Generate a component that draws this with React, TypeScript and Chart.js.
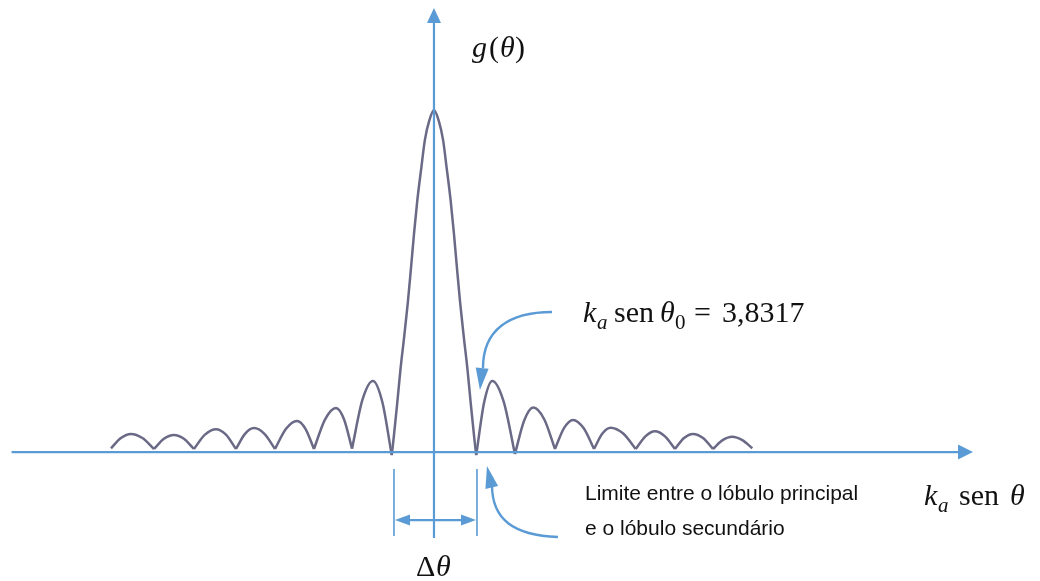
import React, { useEffect, useRef } from "react";
import { Chart, registerables } from "chart.js";

Chart.register(...registerables);

// ---- Data (x in k_a·sen θ units, y = normalised g(θ)) ----
// Main lobe samples, left to right
const mainLobeX = [-3.84, -3.65, -3.34, -3.05, -2.71, -2.38, -2.09, -1.81, -1.51, -1.14, -0.83, -0.41, 0,
  0.41, 0.83, 1.14, 1.51, 1.81, 2.09, 2.38, 2.71, 3.05, 3.34, 3.65, 3.84];
const mainLobeY = [-0.009, 0.045, 0.143, 0.240, 0.337, 0.436, 0.538, 0.640, 0.737, 0.834, 0.912, 0.971, 1.0,
  0.971, 0.912, 0.834, 0.737, 0.640, 0.538, 0.436, 0.337, 0.240, 0.143, 0.045, -0.009];

// Side lobes: zero crossings (16), then per lobe (14): rising shoulder, peak, falling shoulder
const sideZeroX = [-29.36, -25.45, -21.82, -18.0, -14.45, -10.91, -7.45, -3.84,
  3.84, 7.36, 11.0, 14.55, 18.34, 21.91, 25.36, 28.94];
const sideZeroY = [0.011, 0.009, 0.009, 0.009, 0.009, 0.009, 0.010, -0.009,
  -0.009, -0.006, 0.009, 0.009, 0.009, 0.009, 0.009, 0.011];
const sideRiseX = [-28.46, -24.55, -20.82, -17.18, -13.45, -9.91, -6.50,
  4.57, 8.20, 11.82, 15.31, 19.22, 22.73, 26.24];
const sideRiseY = [0.041, 0.039, 0.051, 0.053, 0.068, 0.095, 0.153,
  0.147, 0.092, 0.070, 0.054, 0.046, 0.041, 0.035];
const sidePeakX = [-27.55, -23.64, -19.82, -16.36, -12.45, -8.91, -5.55,
  5.30, 9.03, 12.64, 16.06, 20.09, 23.55, 27.12];
const sidePeakY = [0.053, 0.050, 0.067, 0.070, 0.091, 0.129, 0.208,
  0.208, 0.130, 0.094, 0.071, 0.061, 0.053, 0.045];
const sideFallX = [-26.50, -22.73, -18.91, -15.41, -11.68, -8.18, -4.70,
  6.33, 10.02, 13.60, 17.20, 21.0, 24.46, 28.03];
const sideFallY = [0.041, 0.039, 0.051, 0.053, 0.068, 0.096, 0.147,
  0.148, 0.096, 0.070, 0.054, 0.046, 0.041, 0.035];

// Scale ranges and the extents of the drawn (arrowed) axes
const X_RANGE = [-39.45, 55.09];
const Y_RANGE = [-0.377, 1.3216];
const AXIS_X_EXTENT = [-38.4, 49.0];
const AXIS_Y_EXTENT = [-0.251, 1.298];

// Texts
const yAxisLabel = ["g", "(", "θ", ")"];
const xAxisLabel = ["k", "a", "sen", "θ"];
const zeroLabel = ["k", "a", "sen", "θ", "0", "=", "3,8317"];
const limitLines = ["Limite entre o lóbulo principal", "e o lóbulo secundário"];
const deltaLabel = ["Δ", "θ"];

const CURVE = "#6a6986";
const BLUE = "#5b9bd5";
const SERIF = '"Liberation Serif", "DejaVu Serif", serif';
const SANS = '"Liberation Sans", Arial, sans-serif';

function arrowHead(ctx: CanvasRenderingContext2D, tx: number, ty: number, angle: number, len: number, hw: number) {
  ctx.save();
  ctx.translate(tx, ty);
  ctx.rotate(angle);
  ctx.beginPath();
  ctx.moveTo(0, 0);
  ctx.lineTo(-len, -hw);
  ctx.lineTo(-len, hw);
  ctx.closePath();
  ctx.fill();
  ctx.restore();
}

type Run = { t: string; x: number; y: number; font: string };
function runs(ctx: CanvasRenderingContext2D, list: Run[]) {
  for (const r of list) {
    ctx.font = r.font;
    ctx.fillText(r.t, r.x, r.y);
  }
}

const annotations = {
  id: "annotations",
  afterDatasetsDraw(chart: any) {
    const { ctx, scales } = chart;
    const xs = scales.x, ys = scales.y;
    const ox = xs.getPixelForValue(0);
    const oy = ys.getPixelForValue(0);
    ctx.save();
    ctx.strokeStyle = BLUE;
    ctx.fillStyle = BLUE;
    ctx.lineWidth = 2.2;
    ctx.lineCap = "butt";

    // horizontal axis
    const hx0 = xs.getPixelForValue(AXIS_X_EXTENT[0]);
    const hx1 = xs.getPixelForValue(AXIS_X_EXTENT[1]);
    ctx.beginPath();
    ctx.moveTo(hx0, oy);
    ctx.lineTo(hx1 - 12, oy);
    ctx.stroke();
    arrowHead(ctx, hx1, oy, 0, 15, 7.5);

    // vertical axis
    const vy0 = ys.getPixelForValue(AXIS_Y_EXTENT[0]);
    const vy1 = ys.getPixelForValue(AXIS_Y_EXTENT[1]);
    ctx.beginPath();
    ctx.moveTo(ox, vy0);
    ctx.lineTo(ox, vy1 + 12);
    ctx.stroke();
    arrowHead(ctx, ox, vy1, -Math.PI / 2, 15, 7);

    // Δθ bracket
    ctx.lineWidth = 1.6;
    const bl = ox - 40, br = ox + 43;
    ctx.beginPath();
    ctx.moveTo(bl, oy + 17); ctx.lineTo(bl, oy + 84);
    ctx.moveTo(br, oy + 17); ctx.lineTo(br, oy + 84);
    ctx.stroke();
    ctx.lineWidth = 2.2;
    ctx.beginPath();
    ctx.moveTo(bl + 10, oy + 68); ctx.lineTo(br - 10, oy + 68);
    ctx.stroke();
    arrowHead(ctx, bl + 1, oy + 68, Math.PI, 15, 5.5);
    arrowHead(ctx, br - 1, oy + 68, 0, 15, 5.5);

    // upper curved arrow
    ctx.lineWidth = 2.4;
    ctx.beginPath();
    ctx.moveTo(ox + 118, oy - 140);
    ctx.bezierCurveTo(ox + 75, oy - 140, ox + 49, oy - 122, ox + 49, oy - 84);
    ctx.stroke();
    arrowHead(ctx, ox + 46, oy - 62, Math.PI / 2 + 0.1, 22, 6.5);

    // lower curved arrow
    ctx.beginPath();
    ctx.moveTo(ox + 124, oy + 85);
    ctx.bezierCurveTo(ox + 80, oy + 83, ox + 58, oy + 68, ox + 58, oy + 33);
    ctx.stroke();
    arrowHead(ctx, ox + 53, oy + 14, -Math.PI / 2 - 0.22, 22, 6.5);

    // texts
    ctx.fillStyle = "#111";
    ctx.textBaseline = "alphabetic";
    ctx.textAlign = "left";
    const it = `italic 30px ${SERIF}`;
    const rg = `30px ${SERIF}`;
    const itS = `italic 21px ${SERIF}`;
    const rgS = `21px ${SERIF}`;
    runs(ctx, [
      { t: yAxisLabel[0], x: ox + 38, y: 57, font: it },
      { t: yAxisLabel[1], x: ox + 55, y: 57, font: rg },
      { t: yAxisLabel[2], x: ox + 66, y: 57, font: it },
      { t: yAxisLabel[3], x: ox + 81, y: 57, font: rg },
    ]);
    runs(ctx, [
      { t: zeroLabel[0], x: 583, y: 322, font: it },
      { t: zeroLabel[1], x: 597, y: 329, font: itS },
      { t: zeroLabel[2], x: 614, y: 322, font: rg },
      { t: zeroLabel[3], x: 660, y: 322, font: it },
      { t: zeroLabel[4], x: 675, y: 329, font: rgS },
      { t: zeroLabel[5], x: 694, y: 322, font: rg },
      { t: zeroLabel[6], x: 722, y: 322, font: rg },
    ]);
    runs(ctx, [
      { t: xAxisLabel[0], x: 924, y: 505, font: it },
      { t: xAxisLabel[1], x: 938, y: 512, font: itS },
      { t: xAxisLabel[2], x: 959, y: 505, font: rg },
      { t: xAxisLabel[3], x: 1010, y: 505, font: it },
    ]);
    runs(ctx, [
      { t: deltaLabel[0], x: ox - 18, y: 576, font: rg },
      { t: deltaLabel[1], x: ox + 2, y: 576, font: it },
    ]);
    ctx.font = `21px ${SANS}`;
    ctx.fillText(limitLines[0], 585, 500);
    ctx.fillText(limitLines[1], 585, 535);
    ctx.restore();
  },
};

function buildDatasets() {
  const style = {
    borderColor: CURVE,
    borderWidth: 2.5,
    pointRadius: 0,
    fill: false,
    cubicInterpolationMode: "monotone",
  };
  const sets: any[] = [];
  sets.push({
    ...style,
    data: mainLobeX.map((x, i) => ({ x, y: mainLobeY[i] })),
  });
  for (let i = 0; i < sidePeakX.length; i++) {
    const z = i < 7 ? i : i + 1;
    sets.push({
      ...style,
      data: [
        { x: sideZeroX[z], y: sideZeroY[z] },
        { x: sideRiseX[i], y: sideRiseY[i] },
        { x: sidePeakX[i], y: sidePeakY[i] },
        { x: sideFallX[i], y: sideFallY[i] },
        { x: sideZeroX[z + 1], y: sideZeroY[z + 1] },
      ],
    });
  }
  return sets;
}

export default function App() {
  const ref = useRef<HTMLCanvasElement | null>(null);
  useEffect(() => {
    if (!ref.current) return;
    const chart = new Chart(ref.current, {
      type: "line",
      data: { datasets: buildDatasets() },
      options: {
        animation: false,
        responsive: true,
        maintainAspectRatio: false,
        events: [],
        layout: { padding: 0 },
        plugins: { legend: { display: false }, tooltip: { enabled: false } },
        scales: {
          x: { type: "linear", display: false, min: X_RANGE[0], max: X_RANGE[1] },
          y: { type: "linear", display: false, min: Y_RANGE[0], max: Y_RANGE[1] },
        },
      },
      plugins: [annotations],
    });
    return () => chart.destroy();
  }, []);
  return (
    <div style={{ position: "absolute", left: 0, top: 0, width: 1040, height: 581, background: "#fff" }}>
      <canvas ref={ref} />
    </div>
  );
}
